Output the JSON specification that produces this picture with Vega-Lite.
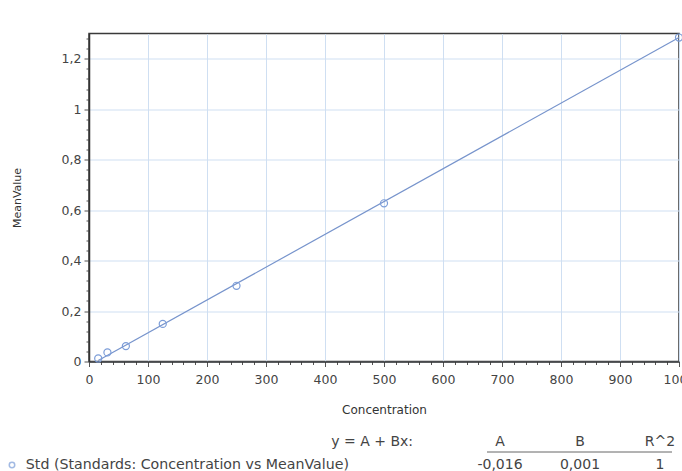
{
  "$schema": "https://vega.github.io/schema/vega-lite/v6.json",
  "padding": {"left": 6, "top": 30.5, "right": 0, "bottom": 0},
  "background": "white",
  "spacing": 14,
  "datasets": {
    "standards": [
      {"Concentration": 15.625, "MeanValue": 0.012},
      {"Concentration": 31.25, "MeanValue": 0.036},
      {"Concentration": 62.5, "MeanValue": 0.061},
      {"Concentration": 125, "MeanValue": 0.149},
      {"Concentration": 250, "MeanValue": 0.3},
      {"Concentration": 500, "MeanValue": 0.627},
      {"Concentration": 1000, "MeanValue": 1.284}
    ],
    "fit": [
      {"Concentration": 15.625, "MeanValue": 0.004},
      {"Concentration": 1000, "MeanValue": 1.284}
    ],
    "coef": [
      {"param": "A", "value": "-0,016"},
      {"param": "B", "value": "0,001"},
      {"param": "R^2", "value": "1"}
    ],
    "series": [
      {"series": "Std (Standards: Concentration vs MeanValue)", "model": "y = A + Bx:"}
    ]
  },
  "vconcat": [
    {
      "width": 590,
      "height": 328,
      "encoding": {
        "x": {
          "field": "Concentration", "type": "quantitative",
          "scale": {"domain": [0, 1000], "nice": false, "zero": false},
          "axis": {
            "title": "Concentration",
            "values": [0,20,40,60,80,100,120,140,160,180,200,220,240,260,280,300,320,340,360,380,400,420,440,460,480,500,520,540,560,580,600,620,640,660,680,700,720,740,760,780,800,820,840,860,880,900,920,940,960,980,1000],
            "labelExpr": "datum.value % 100 === 0 ? format(datum.value, 'd') : ''",
            "labelOverlap": false,
            "labelFlush": false,
            "gridOpacity": {"condition": {"test": "datum.value % 100 === 0", "value": 1}, "value": 0},
            "tickSize": {"condition": {"test": "datum.value % 100 === 0", "value": 5}, "value": 3},
            "labelPadding": 7,
            "titlePadding": 18
          }
        },
        "y": {
          "field": "MeanValue", "type": "quantitative",
          "scale": {"domain": [0, 1.3], "nice": false, "zero": false},
          "axis": {
            "title": "MeanValue",
            "values": [0,0.04,0.08,0.12,0.16,0.2,0.24,0.28,0.32,0.36,0.4,0.44,0.48,0.52,0.56,0.6,0.64,0.68,0.72,0.76,0.8,0.84,0.88,0.92,0.96,1,1.04,1.08,1.12,1.16,1.2,1.24,1.28],
            "labelExpr": "abs(datum.value*5 - round(datum.value*5)) < 0.000001 ? replace(format(datum.value, '~g'), '.', ',') : ''",
            "labelOverlap": false,
            "labelFlush": false,
            "gridOpacity": {"condition": {"test": "abs(datum.value*5 - round(datum.value*5)) < 0.000001", "value": 1}, "value": 0},
            "tickSize": {"condition": {"test": "abs(datum.value*5 - round(datum.value*5)) < 0.000001", "value": 5}, "value": 3},
            "labelPadding": 3,
            "titleFontSize": 11,
            "titlePadding": 39
          }
        }
      },
      "layer": [
        {
          "data": {"name": "fit"},
          "mark": {"type": "line", "color": "#7794cc", "strokeWidth": 1.2}
        },
        {
          "data": {"name": "standards"},
          "mark": {"type": "point", "shape": "circle", "filled": false, "color": "#7c9dd8", "size": 50, "strokeWidth": 1.2, "opacity": 1}
        }
      ]
    },
    {
      "width": 590,
      "height": 46,
      "view": {"stroke": null},
      "layer": [
        {
          "data": {"name": "coef"},
          "mark": {"type": "text", "fontSize": 14, "color": "#444"},
          "encoding": {
            "x": {"field": "param", "type": "nominal", "scale": {"type": "point", "domain": ["Series", "A", "B", "R^2"], "range": [331, 571], "padding": 0}, "axis": null},
            "y": {"datum": "header", "type": "nominal", "scale": {"type": "point", "domain": ["header", "value"], "padding": 0.5}, "axis": null},
            "text": {"field": "param"}
          }
        },
        {
          "data": {"name": "coef"},
          "mark": {"type": "text", "fontSize": 14, "color": "#444"},
          "encoding": {
            "x": {"field": "param", "type": "nominal"},
            "y": {"datum": "value", "type": "nominal"},
            "text": {"field": "value"}
          }
        },
        {
          "data": {"name": "series"},
          "mark": {"type": "rule", "color": "#666", "strokeWidth": 1, "xOffset": -13, "x2Offset": 12, "yOffset": 10},
          "encoding": {
            "x": {"datum": "A", "type": "nominal"},
            "x2": {"datum": "R^2"},
            "y": {"datum": "header", "type": "nominal"}
          }
        },
        {
          "data": {"name": "series"},
          "mark": {"type": "text", "fontSize": 14, "color": "#444", "align": "right", "dx": -7},
          "encoding": {
            "x": {"datum": "Series", "type": "nominal"},
            "y": {"datum": "header", "type": "nominal"},
            "text": {"field": "model"}
          }
        },
        {
          "data": {"name": "series"},
          "mark": {"type": "text", "fontSize": 14.2, "color": "#444", "align": "right", "dx": -71},
          "encoding": {
            "x": {"datum": "Series", "type": "nominal"},
            "y": {"datum": "value", "type": "nominal"},
            "text": {"field": "series"}
          }
        },
        {
          "data": {"name": "series"},
          "mark": {"type": "point", "shape": "circle", "filled": false, "color": "#7c9dd8", "size": 30, "strokeWidth": 1.5, "xOffset": -408},
          "encoding": {
            "x": {"datum": "Series", "type": "nominal"},
            "y": {"datum": "value", "type": "nominal"}
          }
        }
      ]
    }
  ],
  "config": {
    "font": "DejaVu Sans",
    "view": {"stroke": "#3a3a3a", "strokeWidth": 1.5},
    "axis": {
      "grid": true,
      "gridColor": "#cfdff2",
      "gridWidth": 1,
      "domainColor": "#333",
      "domainWidth": 1.5,
      "tickColor": "#555",
      "tickWidth": 1,
      "labelFontSize": 12.5,
      "labelColor": "#444",
      "titleFontSize": 12,
      "titleFontWeight": "normal",
      "titleColor": "#333"
    }
  }
}
